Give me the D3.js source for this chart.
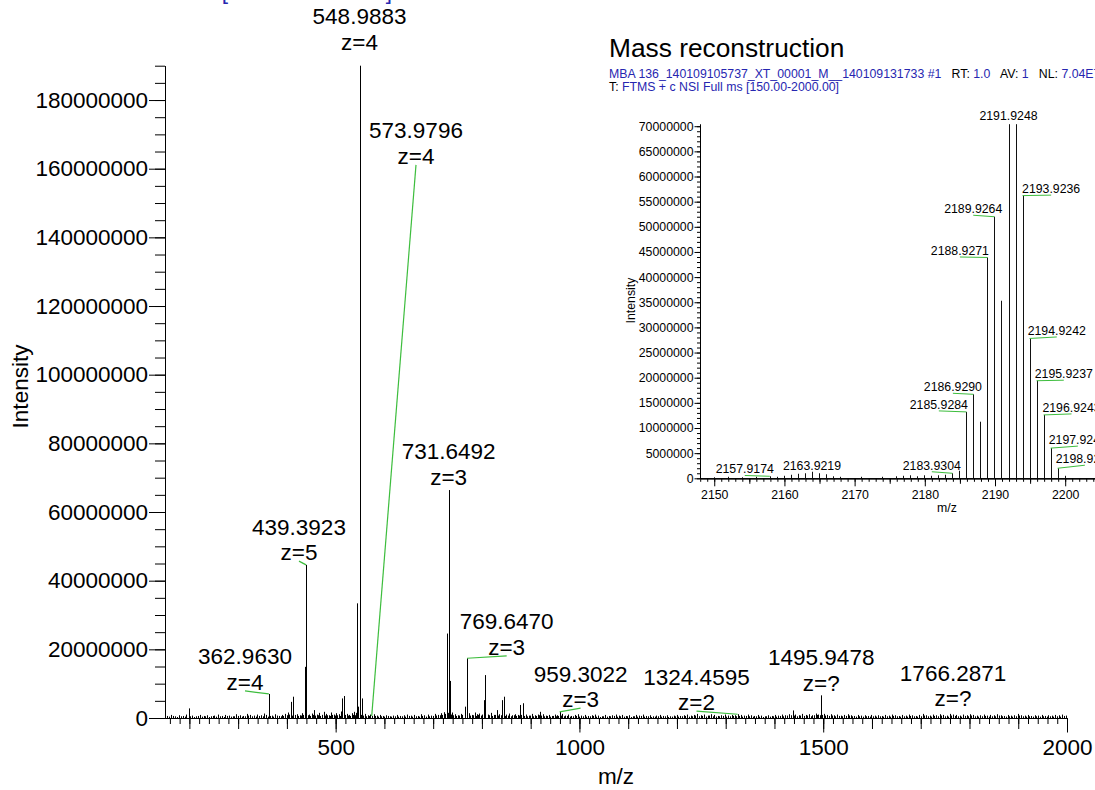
<!DOCTYPE html>
<html><head><meta charset="utf-8">
<script src="https://cdn.jsdelivr.net/npm/d3@7"></script>
<style>
body{margin:0;background:#fff;}
svg{display:block;}
text{font-family:"Liberation Sans",Arial,sans-serif;white-space:pre;}
</style>
</head><body>
<svg id="c" width="1095" height="790"></svg>
<script>
// ---------------- DATA ----------------
// Main spectrum: labelled peaks (m/z, intensity in millions)
const mainPeakMz  = [362.9630, 439.3923, 548.9883, 573.9796, 731.6492, 769.6470, 959.3022, 1324.4595, 1495.9478, 1766.2871];
const mainPeakInt = [7.0, 44.6, 190, 0.6, 66.4, 17.4, 1.8, 1.1, 6.6, 1.0];
const mainPeakLabel  = ["362.9630","439.3923","548.9883","573.9796","731.6492","769.6470","959.3022","1324.4595","1495.9478","1766.2871"];
const mainPeakCharge = ["z=4","z=5","z=4","z=4","z=3","z=3","z=3","z=2","z=?","z=?"];
// label anchor in data units (m/z, intensity in millions)
const mainLabelMz  = [314.1, 424.8, 548.9883, 664.8, 731.6492, 850.8, 1002.4, 1240.1, 1495.9478, 1766.2871];
const mainLabelInt = [7.9, 45.7, 194.3, 161.1, 67.6, 18.1, 2.9, 2.0, 7.6, 3.1];
// Main spectrum: other (unlabelled) peaks [m/z, intensity in millions]
const mainMinor = [
 [155,0.6],[163,0.9],[171,0.5],[178,0.8],[186,0.6],[193,1.0],[198.5,2.8],[206,0.7],[213,0.5],[221,0.9],
 [229,0.6],[236,0.8],[244,0.5],[251,0.7],[259,1.0],[266,0.6],[274,0.9],[281,0.7],[289,0.5],[296,1.1],
 [304,0.8],[311,0.6],[318,1.2],[325,0.9],[332,0.7],[339,1.0],[347,0.8],[354,1.3],[358,0.9],[369,0.7],
 [376,1.1],[383,0.6],[390,0.9],[397,1.2],[403,1.6],[408,4.7],[413.5,6.2],[420,1.1],[426,0.8],[431,1.4],
 [436.7,14.9],[446,1.0],[451,1.3],[455.7,2.3],[461,1.0],[466,1.5],[471,0.9],[476.2,1.8],[481,1.2],[486,0.8],
 [491,1.6],[496,1.0],[501,1.4],[506,1.1],[510,1.9],[513.9,5.7],[517.1,6.4],[523,1.2],[528,0.9],[533,1.4],
 [537.6,1.8],[541,1.5],[544.6,33.4],[546.5,3.3],[554.8,5.7],[560,1.2],[566,0.8],[571,1.0],[579,1.1],[584,0.7],
 [590,0.9],[597,0.6],[604,0.8],[611,0.5],[618,0.7],[625,0.9],[632,0.6],[640,0.8],[647,1.0],[654,0.7],
 [661,0.9],[668,0.6],[675,1.1],[682,0.8],[689,1.0],[696,0.7],[703,1.2],[710,0.9],[716,1.4],[722,1.7],
 [727.4,24.6],[733.6,10.8],[738,1.6],[744,1.1],[750,0.8],[757,1.2],[764.3,2.5],[766,3.3],[774,1.4],[779,0.9],
 [785,1.6],[790,1.1],[795,1.3],[803.8,5.2],[807.3,12.5],[812,1.0],[818,1.5],[824,0.9],[831.2,2.3],[836,1.1],
 [841.5,5.2],[844.7,6.2],[850,1.0],[856,1.3],[862,0.8],[868,1.1],[873,0.9],[878.9,3.8],[884.5,4.3],[890,1.0],
 [896,0.7],[902,1.2],[908,0.8],[914,1.0],[919.9,1.8],[925,1.1],[931,0.7],[937,0.9],[943,0.6],[949,1.0],
 [954,0.8],[965,1.2],[971,0.7],[977,1.0],[983,0.6],[990,0.9],[997,1.1],[1004,0.7],[1011,0.9],[1018,0.6],
 [1025,0.8],[1032,1.0],[1039,0.7],[1046,0.5],[1053,0.9],[1060,0.6],[1067,0.8],[1074,1.0],[1081,0.7],[1088,0.9],
 [1095,0.6],[1102,0.8],[1109,0.5],[1116,0.9],[1123,0.7],[1130,1.0],[1137,0.6],[1144,0.8],[1151,0.5],[1158,0.7],
 [1165,0.9],[1172,0.6],[1179,0.8],[1186,0.5],[1193,0.7],[1200,0.9],[1207,0.6],[1214,0.8],[1221,1.0],[1228,0.7],
 [1235,0.9],[1242,1.2],[1249,0.8],[1256,1.0],[1263,0.7],[1270,1.1],[1277,0.9],[1284,0.6],[1291,0.8],[1298,1.0],
 [1305,0.7],[1312,0.9],[1319,0.8],[1331,0.9],[1338,0.7],[1345,1.0],[1352,0.8],[1359,0.6],[1366,0.9],[1373,0.7],
 [1380,0.5],[1387,0.8],[1394,0.6],[1401,0.9],[1408,0.7],[1415,1.0],[1422,0.8],[1429,1.1],[1437.3,2.2],[1443,1.0],
 [1450,0.8],[1457,1.2],[1464,0.9],[1471,1.1],[1478,0.8],[1485,1.3],[1490,1.0],[1501,1.2],[1508,0.9],[1515,1.1],
 [1522,0.8],[1529,1.0],[1536,0.7],[1543,0.9],[1550,1.1],[1557,0.8],[1564,0.6],[1571,0.9],[1578,0.7],[1585,0.8],
 [1592,0.6],[1599,0.9],[1606,0.7],[1613,0.8],[1620,0.6],[1627,0.9],[1634,0.7],[1641,1.0],[1648,0.8],[1655,0.6],
 [1662,0.9],[1669,0.7],[1676,1.0],[1683,0.8],[1690,0.6],[1697,0.9],[1704,1.2],[1711,0.8],[1718,0.7],[1725,1.0],
 [1732,0.8],[1739,1.1],[1746,0.9],[1753,0.7],[1760,1.2],[1773,0.9],[1780,0.7],[1787,1.0],[1794,0.8],[1801,1.1],
 [1808,0.9],[1815,0.7],[1822,0.8],[1829,1.0],[1836,0.7],[1843,0.9],[1850,0.8],[1857,1.1],[1864,0.8],[1871,0.6],
 [1878,0.9],[1885,0.7],[1892,0.8],[1899,1.2],[1906,0.8],[1913,0.7],[1920,0.9],[1927,0.6],[1934,0.8],[1941,0.7],
 [1948,0.9],[1955,0.6],[1962,0.8],[1969,0.7],[1976,0.9],[1983,0.8],[1990,1.0],[1997,0.7]
];
// Main spectrum: baseline noise [m/z, intensity in millions]
const mainNoise = [
 [159,0.4],[167,0.6],[175,0.3],[182,0.5],[190,0.4],[202,0.5],[209,0.3],[217,0.6],[225,0.4],[232,0.5],
 [240,0.3],[248,0.6],[255,0.4],[262,0.5],[270,0.3],[278,0.6],[285,0.4],[292,0.5],[300,0.6],[307,0.4],
 [315,0.5],[321,0.7],[329,0.5],[336,0.4],[343,0.6],[350,0.5],[362,0.4],[366,0.6],[372,0.4],[380,0.7],
 [387,0.5],[393,0.6],[400,0.8],[405,1.0],[411,0.7],[417,0.9],[423,0.6],[428,0.7],[434,0.9],[443,0.8],
 [448,0.6],[453,0.9],[458,0.7],[463,0.8],[468,0.6],[473,0.9],[478,0.7],[483,0.8],[488,0.6],[493,0.9],
 [498,0.7],[503,0.8],[508,0.6],[519,0.9],[525,0.7],[530,0.6],[535,0.9],[539,0.8],[551,0.9],[557,0.7],
 [563,0.5],[568,0.6],[575,0.5],[581,0.6],[587,0.4],[593,0.5],[600,0.4],[607,0.6],[614,0.4],[621,0.5],
 [628,0.4],[636,0.5],[643,0.4],[650,0.6],[657,0.4],[664,0.5],[671,0.4],[678,0.6],[685,0.4],[692,0.5],
 [699,0.6],[706,0.7],[713,0.8],[719,0.9],[725,1.2],[730,1.5],[736,1.0],[741,0.8],[747,0.6],[753,0.7],
 [760,0.9],[770,0.9],[776,0.7],[782,0.8],[788,0.6],[792,0.9],[798,0.7],[801,1.0],[815,0.8],[821,0.6],
 [827,0.9],[833,0.7],[839,0.8],[847,0.6],[853,0.7],[859,0.5],[865,0.8],[870,0.6],[876,0.7],[881,0.9],
 [887,0.6],[893,0.5],[899,0.7],[905,0.5],[911,0.6],[917,0.8],[922,0.7],[928,0.5],[934,0.6],[940,0.4],
 [946,0.6],[951,0.5],[957,0.6],[962,0.7],[968,0.5],[974,0.6],[980,0.4],[987,0.5],[993,0.6],[1000,0.4],
 [1007,0.5],[1014,0.4],[1021,0.5],[1028,0.6],[1035,0.4],[1042,0.3],[1049,0.5],[1056,0.4],[1063,0.5],[1070,0.6],
 [1077,0.4],[1084,0.5],[1091,0.4],[1098,0.5],[1105,0.3],[1112,0.5],[1119,0.4],[1126,0.6],[1133,0.4],[1140,0.5],
 [1147,0.3],[1154,0.4],[1161,0.5],[1168,0.4],[1175,0.5],[1182,0.3],[1189,0.4],[1196,0.5],[1203,0.4],[1210,0.5],
 [1217,0.6],[1224,0.4],[1231,0.5],[1238,0.7],[1245,0.5],[1252,0.6],[1259,0.4],[1266,0.7],[1273,0.5],[1280,0.4],
 [1287,0.5],[1294,0.6],[1301,0.4],[1308,0.5],[1315,0.6],[1322,0.5],[1328,0.6],[1334,0.4],[1341,0.6],[1348,0.5],
 [1355,0.4],[1362,0.5],[1369,0.4],[1376,0.3],[1383,0.5],[1390,0.4],[1397,0.5],[1404,0.4],[1411,0.6],[1418,0.5],
 [1425,0.7],[1433,0.8],[1440,0.7],[1446,0.5],[1453,0.7],[1460,0.6],[1467,0.7],[1474,0.5],[1481,0.8],[1488,0.9],
 [1493,0.8],[1498,0.9],[1504,0.7],[1511,0.6],[1518,0.7],[1525,0.5],[1532,0.6],[1539,0.5],[1546,0.6],[1553,0.7],
 [1560,0.5],[1567,0.4],[1574,0.5],[1581,0.4],[1588,0.5],[1595,0.4],[1602,0.5],[1609,0.4],[1616,0.5],[1623,0.4],
 [1630,0.5],[1637,0.4],[1644,0.6],[1651,0.5],[1658,0.4],[1665,0.5],[1672,0.4],[1679,0.6],[1686,0.5],[1693,0.4],
 [1700,0.5],[1707,0.7],[1714,0.5],[1721,0.4],[1728,0.6],[1735,0.5],[1742,0.7],[1749,0.5],[1756,0.4],[1763,0.7],
 [1770,0.6],[1776,0.5],[1783,0.4],[1790,0.6],[1797,0.5],[1804,0.7],[1811,0.5],[1818,0.4],[1825,0.5],[1832,0.6],
 [1839,0.4],[1846,0.5],[1853,0.5],[1860,0.7],[1867,0.5],[1874,0.4],[1881,0.5],[1888,0.4],[1895,0.5],[1902,0.7],
 [1909,0.5],[1916,0.4],[1923,0.5],[1930,0.4],[1937,0.5],[1944,0.4],[1951,0.5],[1958,0.4],[1965,0.5],[1972,0.4],
 [1979,0.5],[1986,0.4],[1993,0.6]
];
const mainXDomain = [150, 2000];
const mainYMax = 190;            // millions
const mainXTickLabels = [500, 1000, 1500, 2000];
const mainYTickLabels = [0, 20000000, 40000000, 60000000, 80000000, 100000000, 120000000, 140000000, 160000000, 180000000];

// Inset: mass reconstruction
const inPeakMz  = [2157.9174, 2163.9219, 2183.9304, 2185.9284, 2186.9290, 2187.9280, 2188.9271, 2189.9264, 2190.9255, 2191.9248, 2192.9242, 2193.9236, 2194.9242, 2195.9237, 2196.9243, 2197.9241, 2198.9236, 2199.9230];
const inPeakInt = [0.4, 1.3, 1.0, 13.2, 16.7, 11.25, 43.9, 52.0, 35.3, 70.4, 70.4, 56.2, 27.8, 19.4, 12.6, 6.0, 2.0, 0.5];
const inPeakLabel = ["2157.9174","2163.9219","2183.9304","2185.9284","2186.9290","","2188.9271","2189.9264","","2191.9248","","2193.9236","2194.9242","2195.9237","2196.9243","2197.9241","2198.9236",""];
const inLabelMz  = [2154.35, 2163.9219, 2181.0, 2182.0, 2184.0, null, 2185.0, 2186.9, null, 2191.9248, null, 2198.0, 2198.8, 2199.8, 2200.9, 2201.8, 2202.8, null];
const inLabelInt = [0.56, 1.3, 1.3, 13.4, 16.9, null, 44.0, 52.3, null, 70.8, null, 56.3, 28.1, 19.5, 12.8, 6.4, 2.6, null];
const inMinor = [
 [2149.9,0.2],[2151.9,0.3],[2153.9,0.2],[2155.9,0.3],[2158.9,0.3],[2159.9,0.5],[2160.9,0.7],[2161.9,0.9],
 [2162.9,1.0],[2164.9,1.0],[2165.9,0.8],[2166.9,0.4],[2167.9,0.3],[2170.9,0.3],[2173.9,0.3],[2175.9,0.4],
 [2176.9,0.5],[2177.9,0.6],[2178.9,0.4],[2179.9,0.6],[2180.9,0.5],[2181.9,0.6],[2182.9,0.7],[2184.9,1.5]
];
const inXDomain = [2148, 2205.5];
const inYMax = 70.44;            // millions
const inXTickLabels = [2150, 2160, 2170, 2180, 2190, 2200];
const inYTickLabels = [0,5000000,10000000,15000000,20000000,25000000,30000000,35000000,40000000,45000000,50000000,55000000,60000000,65000000,70000000];

const insetTitle = "Mass reconstruction";
const insetHeader1 = [["MBA 136_140109105737_XT_00001_M__140109131733 #1", "b"], ["   RT: ", "k"], ["1.0", "b"], ["   AV: ", "k"], ["1", "b"], ["   NL: ", "k"], ["7.04E7", "b"]];
const insetHeader2 = [["T: ", "k"], ["FTMS + c NSI Full ms [150.00-2000.00]", "b"]];
const mainCutHeader = "T: FTMS + c NSI Full ms [150.00-2000.00]";

// ---------------- DRAW ----------------
const M = 1e6;
const BLUE = "#2626b0", GREEN = "#3dbd3d", FONT = '"Liberation Sans", Arial, sans-serif';
const svg = d3.select("#c");
svg.append("rect").attr("width",1095).attr("height",790).attr("fill","#fff");

function styleAxis(g, fs){
  g.attr("font-family", FONT).attr("font-size", fs);
  g.selectAll("path,line").attr("stroke","#000").attr("stroke-width",1);
  g.selectAll("text").attr("fill","#000");
}

// cut-off header at very top of main chart
svg.append("text").attr("x",392).attr("y",-1.5).attr("text-anchor","end")
  .attr("font-size",22.5).attr("fill",BLUE).text(mainCutHeader);

// ---- main chart ----
const x = d3.scaleLinear().domain(mainXDomain).range([165, 1067]);
const y = d3.scaleLinear().domain([0, mainYMax*M]).range([718, 65.7]);

// y axis
const yMinor = svg.append("g").attr("transform","translate(165,0)")
  .call(d3.axisLeft(y).tickValues(d3.range(0, mainYMax*M+1, 5*M)).tickSize(10).tickSizeOuter(0).tickFormat(""));
styleAxis(yMinor, 22.5);
const yMajor = svg.append("g").attr("transform","translate(165,0)")
  .call(d3.axisLeft(y).tickValues(mainYTickLabels).tickSize(16).tickSizeOuter(0).tickPadding(1).tickFormat(d3.format("d")));
styleAxis(yMajor, 22.5);

// x axis
const xMinor = svg.append("g").attr("transform","translate(0,718)")
  .call(d3.axisBottom(x).tickValues(d3.range(160, 2001, 20)).tickSize(6).tickSizeOuter(0).tickFormat(""));
styleAxis(xMinor, 22.5);
const xMed = svg.append("g").attr("transform","translate(0,718)")
  .call(d3.axisBottom(x).tickValues(d3.range(200, 2001, 100)).tickSize(11).tickSizeOuter(0).tickFormat(""));
styleAxis(xMed, 22.5);
const xMajor = svg.append("g").attr("transform","translate(0,718)")
  .call(d3.axisBottom(x).tickValues(mainXTickLabels).tickSize(14.5).tickSizeOuter(0).tickPadding(6.5).tickFormat(d3.format("d")));
styleAxis(xMajor, 22.5);

svg.append("text").attr("x",616).attr("y",784).attr("text-anchor","middle").attr("font-size",22.5).text("m/z");
svg.append("text").attr("transform","translate(28,386.5) rotate(-90)").attr("text-anchor","middle").attr("font-size",22.5).text("Intensity");

// peaks
const mainAll = mainNoise.concat(mainMinor, mainPeakMz.map((m,i)=>[m, mainPeakInt[i]]));
svg.append("g").selectAll("line").data(mainAll).join("line")
  .attr("x1", d=>Math.round(x(d[0]))+0.5).attr("x2", d=>Math.round(x(d[0]))+0.5)
  .attr("y1", y(0)).attr("y2", d=>y(d[1]*M))
  .attr("stroke","#000").attr("stroke-width",1);

// leaders + labels
const mainLab = mainPeakMz.map((m,i)=>({m, v:mainPeakInt[i], lm:mainLabelMz[i], lv:mainLabelInt[i], t:mainPeakLabel[i], z:mainPeakCharge[i]}));
mainLab.forEach(d=>{
  const px = x(d.m), py = y(d.v*M), ax = x(d.lm), ay = y(d.lv*M);
  if (Math.abs(px-ax) > 4) {
    svg.append("line").attr("x1",px).attr("y1",py).attr("x2",ax).attr("y2",ay)
      .attr("stroke",GREEN).attr("stroke-width",1.2);
  }
  svg.append("text").attr("x",ax).attr("y",ay-1-25.5).attr("text-anchor","middle").attr("font-size",22.5).text(d.t);
  svg.append("text").attr("x",ax).attr("y",ay-1).attr("text-anchor","middle").attr("font-size",22.5).text(d.z);
});

// ---- inset ----
const ix = d3.scaleLinear().domain(inXDomain).range([700.2, 1103.8]);
const iy = d3.scaleLinear().domain([0, inYMax*M]).range([478.3, 124]);

svg.append("text").attr("x",609).attr("y",56.5).attr("font-size",26.3).text(insetTitle);
const h1 = svg.append("text").attr("x",609).attr("y",78).attr("font-size",12.3);
insetHeader1.forEach(p=>h1.append("tspan").attr("fill", p[1]==="b"?BLUE:"#000").text(p[0]));
const h2 = svg.append("text").attr("x",609).attr("y",90.5).attr("font-size",12.3);
insetHeader2.forEach(p=>h2.append("tspan").attr("fill", p[1]==="b"?BLUE:"#000").text(p[0]));

const iyMinor = svg.append("g").attr("transform","translate(700,0)")
  .call(d3.axisLeft(iy).tickValues(d3.range(0, 70*M+1, 1*M)).tickSize(3).tickSizeOuter(0).tickFormat(""));
styleAxis(iyMinor, 12.3);
const iyMajor = svg.append("g").attr("transform","translate(700,0)")
  .call(d3.axisLeft(iy).tickValues(inYTickLabels).tickSize(5.5).tickSizeOuter(0).tickPadding(1).tickFormat(d3.format("d")));
styleAxis(iyMajor, 12.3);

const ixMinor = svg.append("g").attr("transform","translate(0,478.3)")
  .call(d3.axisBottom(ix).tickValues(d3.range(2148, 2206, 1)).tickSize(3.5).tickSizeOuter(0).tickFormat(""));
styleAxis(ixMinor, 12.3);
const ixMed = svg.append("g").attr("transform","translate(0,478.3)")
  .call(d3.axisBottom(ix).tickValues(d3.range(2155, 2206, 10)).tickSize(5.5).tickSizeOuter(0).tickFormat(""));
styleAxis(ixMed, 12.3);
const ixMajor = svg.append("g").attr("transform","translate(0,478.3)")
  .call(d3.axisBottom(ix).tickValues(inXTickLabels).tickSize(8).tickSizeOuter(0).tickPadding(3.5).tickFormat(d3.format("d")));
styleAxis(ixMajor, 12.3);

svg.append("text").attr("x",947).attr("y",512).attr("text-anchor","middle").attr("font-size",12.3).text("m/z");
svg.append("text").attr("transform","translate(635,300.5) rotate(-90)").attr("text-anchor","middle").attr("font-size",12.3).text("Intensity");

const inAll = inMinor.concat(inPeakMz.map((m,i)=>[m, inPeakInt[i]]));
svg.append("g").selectAll("line").data(inAll).join("line")
  .attr("x1", d=>Math.round(ix(d[0]))+0.5).attr("x2", d=>Math.round(ix(d[0]))+0.5)
  .attr("y1", iy(0)).attr("y2", d=>iy(d[1]*M))
  .attr("stroke","#111").attr("stroke-width",1);

inPeakMz.forEach((m,i)=>{
  if (!inPeakLabel[i]) return;
  const px = ix(m), py = iy(inPeakInt[i]*M), ax = ix(inLabelMz[i]), ay = iy(inLabelInt[i]*M);
  if (Math.abs(px-ax) > 4) {
    svg.append("line").attr("x1",px).attr("y1",py).attr("x2",ax).attr("y2",ay)
      .attr("stroke",GREEN).attr("stroke-width",1);
  }
  svg.append("text").attr("x",ax).attr("y",ay-2).attr("text-anchor","middle").attr("font-size",12.3).text(inPeakLabel[i]);
});
</script>
</body></html>
